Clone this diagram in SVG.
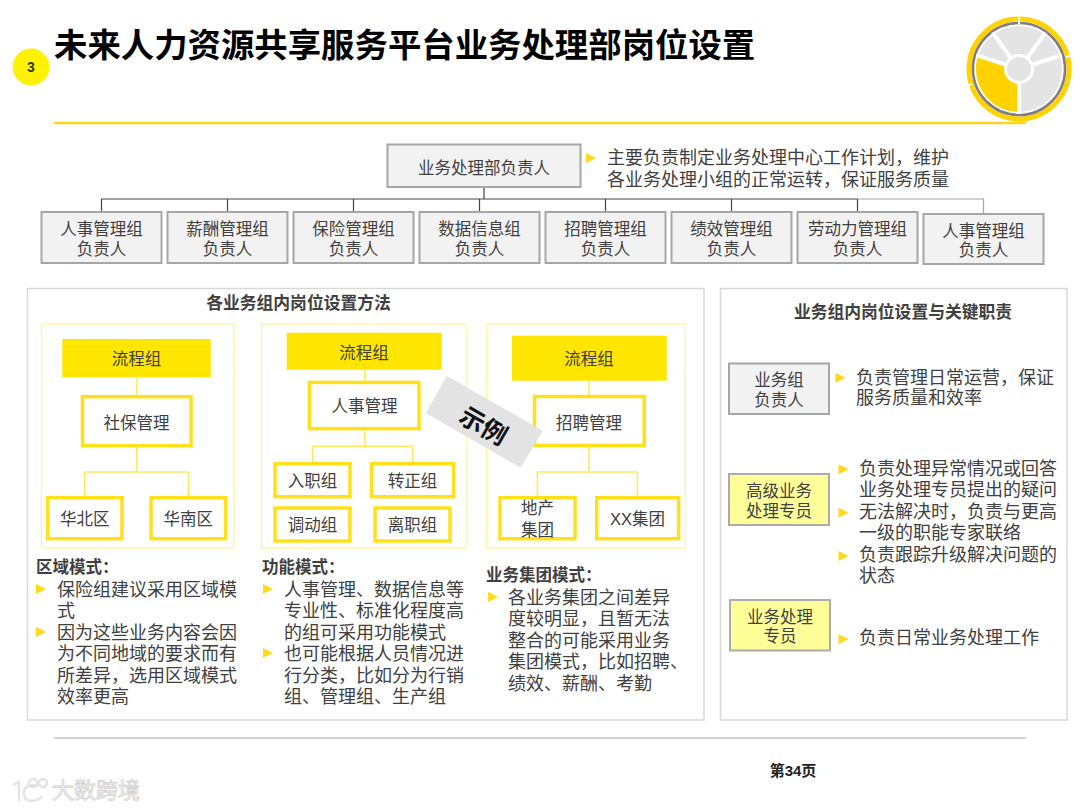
<svg xmlns="http://www.w3.org/2000/svg" width="1080" height="810" viewBox="0 0 1080 810">
<style>
text{font-family:"Liberation Sans","Noto Sans CJK SC",sans-serif;fill:#404040}
.c{text-anchor:middle}
.s{font-size:16.5px}
.m{font-size:18px}
.b{font-weight:bold}
.gb{fill:#F2F2F2;stroke:#A6A6A6;stroke-width:2}
.yb{fill:#FFFF99;stroke:#ABABAB;stroke-width:2}
.fr{fill:#fff;stroke:#FFF2A0;stroke-width:1.3}
.hd{fill:#FFE600}
.wb{fill:#fff;stroke:#FFE11A;stroke-width:3.5}
.pn{fill:#fff;stroke:#D9D9D9;stroke-width:1.5}
.yl{fill:none;stroke:#FFE95C;stroke-width:1.5}
</style>
<defs><polygon id="tri" points="0,-5 10,0 0,5" fill="#FFD91A"/></defs>
<rect width="1080" height="810" fill="#fff"/>

<g id="header">
<circle cx="31" cy="67" r="18.5" fill="#FFF200"/>
<text x="31" y="72" class="c b" style="font-size:14px;fill:#333">3</text>
<text x="54" y="57" class="b" style="font-size:33.4px;fill:#000">未来人力资源共享服务平台业务处理部岗位设置</text>
<line x1="54" y1="123" x2="1026" y2="123" stroke="#FFD520" stroke-width="2.4"/>
<g id="wheel">
<circle cx="1019" cy="69" r="50" fill="#fff" stroke="#FFD200" stroke-width="5"/>
<circle cx="1019" cy="69" r="46" fill="none" stroke="#7F7F7F" stroke-width="2.6"/>
<circle cx="1019" cy="69" r="43" fill="#E4E4E4"/>
<path d="M1019 69 L1019 112 A43 43 0 0 1 978.1 55.7 Z" fill="#FFD200" transform="rotate(0)"/>
<path d="M1019 69V114M1019 69L976.2 55.1M1019 69L992.5 32.6M1019 69L1045.5 32.6M1019 69L1061.8 55.1" stroke="#fff" stroke-width="4" fill="none"/>
<circle cx="1019" cy="69" r="13.5" fill="#E4E4E4" stroke="#fff" stroke-width="3"/>
<path d="M1019 17V24M1066 57L1072 55M972 84L966 86" stroke="#fff" stroke-width="2"/>
</g>
</g>

<g id="connectors" fill="none">
<path d="M484 187V199M101.500 212V199H857.500V212M227.500 199V212M353.500 199V212M479.500 199V212M605.500 199V212M731.500 199V212" stroke="#444" stroke-width="1.2"/>
<path d="M857.500 199H983.500V214" stroke="#A6A6A6" stroke-width="1.2"/>
<path d="M779.300 414V474M779.300 525V600" stroke="#A6A6A6" stroke-width="1.5"/>
</g>

<g id="lead">
<rect x="387.500" y="144.500" width="193" height="42.500" class="gb"/>
<text x="484" y="173.500" class="c s">业务处理部负责人</text>
<use href="#tri" x="586" y="158"/>
<text x="607" y="163.500" class="m">主要负责制定业务处理中心工作计划，维护</text>
<text x="607" y="185.500" class="m">各业务处理小组的正常运转，保证服务质量</text>
</g>

<g id="team1"><rect x="41.500" y="212" width="120" height="51" class="gb"/><text x="101.500" y="235" class="c s">人事管理组</text><text x="101.500" y="255" class="c s">负责人</text></g>
<g id="team2"><rect x="167.500" y="212" width="120" height="51" class="gb"/><text x="227.500" y="235" class="c s">薪酬管理组</text><text x="227.500" y="255" class="c s">负责人</text></g>
<g id="team3"><rect x="293.500" y="212" width="120" height="51" class="gb"/><text x="353.500" y="235" class="c s">保险管理组</text><text x="353.500" y="255" class="c s">负责人</text></g>
<g id="team4"><rect x="419.500" y="212" width="120" height="51" class="gb"/><text x="479.500" y="235" class="c s">数据信息组</text><text x="479.500" y="255" class="c s">负责人</text></g>
<g id="team5"><rect x="545.500" y="212" width="120" height="51" class="gb"/><text x="605.500" y="235" class="c s">招聘管理组</text><text x="605.500" y="255" class="c s">负责人</text></g>
<g id="team6"><rect x="671.500" y="212" width="120" height="51" class="gb"/><text x="731.500" y="235" class="c s">绩效管理组</text><text x="731.500" y="255" class="c s">负责人</text></g>
<g id="team7"><rect x="797.500" y="212" width="120" height="51" class="gb"/><text x="857.500" y="235" class="c s">劳动力管理组</text><text x="857.500" y="255" class="c s">负责人</text></g>
<g id="team8"><rect x="923.500" y="214" width="120" height="50" class="gb"/><text x="983.500" y="237" class="c s">人事管理组</text><text x="983.500" y="256" class="c s">负责人</text></g>

<g id="left-panel">
<rect x="27.500" y="288.500" width="676.500" height="431.500" class="pn"/>
<text x="298.500" y="309" class="c b" style="font-size:16.8px">各业务组内岗位设置方法</text>
</g>

<g id="region-mode">
<rect x="41.500" y="324" width="192.500" height="224" class="fr"/>
<path d="M136.700 377V395M136.700 447V472M84.700 496V472H188.300V496" class="yl"/>
<rect x="62.300" y="339" width="148.400" height="38" class="hd"/>
<text x="136.500" y="365" class="c s">流程组</text>
<rect x="82.500" y="396.700" width="108.500" height="49" class="wb"/>
<text x="136.500" y="428.500" class="c s">社保管理</text>
<rect x="47.700" y="497.700" width="74.300" height="41" class="wb"/>
<text x="84.700" y="525" class="c s">华北区</text>
<rect x="151" y="497.700" width="74.600" height="41" class="wb"/>
<text x="188.300" y="525" class="c s">华南区</text>
<text x="36" y="573" class="s b">区域模式：</text>
<use href="#tri" x="36" y="589"/>
<text x="57" y="595.500" class="m">保险组建议采用区域模</text>
<text x="57" y="617" class="m">式</text>
<use href="#tri" x="36" y="632"/>
<text x="57" y="638.500" class="m">因为这些业务内容会因</text>
<text x="57" y="660" class="m">为不同地域的要求而有</text>
<text x="57" y="681.500" class="m">所差异，选用区域模式</text>
<text x="57" y="703" class="m">效率更高</text>
</g>

<g id="function-mode">
<rect x="261.500" y="324" width="205.500" height="224" class="fr"/>
<path d="M364.700 370V381M364.700 430V446.300M312.700 462V446.300H412.700V462" class="yl"/>
<rect x="286.700" y="332.700" width="155" height="37" class="hd"/>
<text x="364" y="358.500" class="c s">流程组</text>
<rect x="309.400" y="382.400" width="109.600" height="46.200" class="wb"/>
<text x="364.500" y="412" class="c s">人事管理</text>
<rect x="275" y="463.700" width="75" height="33" class="wb"/>
<text x="312.500" y="487" class="c s">入职组</text>
<rect x="371.700" y="463.700" width="81.900" height="33" class="wb"/>
<text x="412.500" y="487" class="c s">转正组</text>
<rect x="275" y="508" width="75" height="33" class="wb"/>
<text x="312.500" y="531" class="c s">调动组</text>
<rect x="375" y="508" width="75" height="33" class="wb"/>
<text x="412.500" y="531" class="c s">离职组</text>
<text x="262" y="573" class="s b">功能模式：</text>
<use href="#tri" x="263" y="589"/>
<text x="284" y="595.500" class="m">人事管理、数据信息等</text>
<text x="284" y="617" class="m">专业性、标准化程度高</text>
<text x="284" y="638.500" class="m">的组可采用功能模式</text>
<use href="#tri" x="263" y="653"/>
<text x="284" y="660" class="m">也可能根据人员情况进</text>
<text x="284" y="681.500" class="m">行分类，比如分为行销</text>
<text x="284" y="703" class="m">组、管理组、生产组</text>
</g>

<g id="group-mode">
<rect x="486.700" y="324" width="198.600" height="224" class="fr"/>
<path d="M589 381V395M589 447V472M537.300 496V472H637.300V496" class="yl"/>
<rect x="512" y="335.700" width="154.700" height="45" class="hd"/>
<text x="589" y="365" class="c s">流程组</text>
<rect x="534.500" y="396.500" width="109.700" height="49" class="wb"/>
<text x="589" y="428.500" class="c s">招聘管理</text>
<rect x="500" y="497.700" width="75" height="41" class="wb"/>
<text x="537.500" y="513.500" class="c s">地产</text>
<text x="537.500" y="536" class="c s">集团</text>
<rect x="596.700" y="497.700" width="81.900" height="41" class="wb"/>
<text x="637.500" y="525" class="c s">XX集团</text>
<text x="486" y="581" class="s b">业务集团模式：</text>
<use href="#tri" x="488" y="597"/>
<text x="508" y="603.500" class="m">各业务集团之间差异</text>
<text x="508" y="625" class="m">度较明显，且暂无法</text>
<text x="508" y="646.500" class="m">整合的可能采用业务</text>
<text x="508" y="668" class="m">集团模式，比如招聘、</text>
<text x="508" y="689.500" class="m">绩效、薪酬、考勤</text>
</g>

<g id="example-tag">
<polygon points="446.700,375.700 542.700,430.700 520.700,467.700 426,413.300" fill="#E3E3E3"/>
<text transform="translate(483.500 426) rotate(30)" x="0" y="9" class="c b" style="font-size:25px;fill:#111">示例</text>
</g>

<g id="right-panel">
<rect x="720.500" y="288.500" width="346.500" height="431.500" class="pn"/>
<text x="903" y="317.500" class="c b" style="font-size:16.8px">业务组内岗位设置与关键职责</text>
</g>

<g id="role-lead">
<rect x="729" y="363.500" width="100" height="50.500" class="gb"/>
<text x="779" y="386" class="c s">业务组</text>
<text x="779" y="405.500" class="c s">负责人</text>
<use href="#tri" x="835.500" y="377.700"/>
<text x="856" y="383.500" class="m">负责管理日常运营，保证</text>
<text x="856" y="404" class="m">服务质量和效率</text>
</g>

<g id="role-senior">
<rect x="729" y="474" width="100" height="51" class="yb"/>
<text x="779" y="497" class="c s">高级业务</text>
<text x="779" y="516.500" class="c s">处理专员</text>
<use href="#tri" x="838.500" y="469.300"/>
<text x="859" y="474.500" class="m">负责处理异常情况或回答</text>
<text x="859" y="495.500" class="m">业务处理专员提出的疑问</text>
<use href="#tri" x="838.500" y="512.700"/>
<text x="859" y="517.500" class="m">无法解决时，负责与更高</text>
<text x="859" y="539" class="m">一级的职能专家联络</text>
<use href="#tri" x="838.500" y="556"/>
<text x="859" y="560.500" class="m">负责跟踪升级解决问题的</text>
<text x="859" y="582" class="m">状态</text>
</g>

<g id="role-staff">
<rect x="730" y="600" width="100" height="50.500" class="yb"/>
<text x="780" y="623" class="c s">业务处理</text>
<text x="780" y="642" class="c s">专员</text>
<use href="#tri" x="838.500" y="639.300"/>
<text x="859" y="644" class="m">负责日常业务处理工作</text>
</g>

<g id="footer">
<line x1="54" y1="738" x2="1026" y2="738" stroke="#C4C4C4" stroke-width="1.5"/>
<text x="793" y="776" class="c b" style="font-size:15px;fill:#222">第34页</text>
<g id="watermark" fill="none" stroke="#E4E4E4" stroke-width="2.500">
<path d="M13 785L19 782V801M38 786C26 782 23 790 24 795C25 802 36 803 42 796"/>
<circle cx="33" cy="783" r="4"/><circle cx="43" cy="783" r="4"/>
</g>
<text x="52" y="798" style="font-size:22px;fill:#F6F6F6;stroke:#D2D2D2;stroke-width:.8">大数跨境</text>
</g>
</svg>
